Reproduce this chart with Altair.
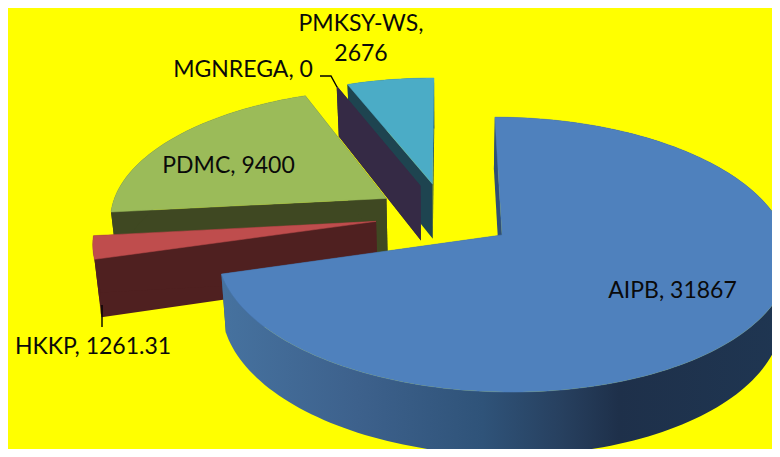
import numpy as np
import pandas as pd
import altair as alt

categories = ["AIPB", "HKKP", "PDMC", "MGNREGA", "PMKSY-WS"]
values = [31867, 1261.31, 9400, 0, 2676]
face_colors = ["#4F81BD", "#BF4D4D", "#9BBB59", "#8064A2", "#4BACC6"]
wall_colors = ["#2F4F75", "#4F2020", "#3F4822", "#352A45", "#1E4450"]
label_text = [["AIPB, 31867"], ["HKKP, 1261.31"], ["PDMC, 9400"], ["MGNREGA, 0"], ["PMKSY-WS,", "2676"]]

# perspective of the tilted pie
X0, Y0, A, B, K, EXPLODE, DEPTH, SHRINK = 445, 215, 277, 129, 0.14, 0.252, 56, 0.98
PAGE_MARGIN = 8


def project(u, v, lower=False):
    s = 1 / (1 - K * v)
    f = SHRINK if lower else 1
    return [X0 + A * u * s * f, Y0 + B * v * s * f + (DEPTH * s if lower else 0)]


def ring_point(angle, ox, oy, r=1.0):
    return ox + r * np.sin(angle), oy - r * np.cos(angle)


def feature(points):
    ring = [[float(x), float(y)] for x, y in points]
    ring.append(ring[0])
    return {"type": "Feature", "properties": {},
            "geometry": {"type": "Polygon", "coordinates": [ring]}}


def line_feature(points):
    return {"type": "Feature", "properties": {},
            "geometry": {"type": "LineString", "coordinates": points}}


def shape(features, **mark):
    return alt.Chart(alt.Data(values=features, format=alt.DataFormat(type="json"))).mark_geoshape(**mark).project(
        type="identity", scale=1, translate=[-PAGE_MARGIN, -PAGE_MARGIN])


total = sum(values)
starts = np.cumsum([0] + values[:-1]) / total * 2 * np.pi
ends = np.cumsum(values) / total * 2 * np.pi

wedges = []
for i in range(len(values)):
    a0, a1 = starts[i], ends[i]
    mid = (a0 + a1) / 2
    ox, oy = EXPLODE * np.sin(mid), -EXPLODE * np.cos(mid)
    n = max(2, int((a1 - a0) / np.radians(1.5)))
    arc = [ring_point(t, ox, oy) for t in np.linspace(a0, a1, n)]
    wedges.append(dict(ox=ox, oy=oy, arc=arc, a0=a0, a1=a1))

# back to front
layers = []
for i in [4, 3, 2, 1, 0]:
    w = wedges[i]
    arc, ox, oy = w["arc"], w["ox"], w["oy"]
    edges = []
    for end in (arc[0], arc[-1]):
        edges.append(feature([project(ox, oy), project(*end), project(*end, lower=True), project(ox, oy, lower=True)]))
    layers.append(shape(edges, fill=wall_colors[i], strokeWidth=0))
    top = [project(u, v) for u, v in arc]
    bottom = [project(u, v, lower=True) for u, v in arc]
    rim = feature(top + bottom[::-1])
    if i == 0:
        fill = alt.Gradient(gradient="linear", x1=0, x2=1, y1=0, y2=0, stops=[
            alt.GradientStop(color="#46729F", offset=0.0),
            alt.GradientStop(color="#3D618C", offset=0.24),
            alt.GradientStop(color="#2F5379", offset=0.46),
            alt.GradientStop(color="#27405F", offset=0.60),
            alt.GradientStop(color="#1E304A", offset=0.70),
            alt.GradientStop(color="#1F3652", offset=1.0),
        ])
        layers.append(shape([rim], fill=fill, strokeWidth=0))
    else:
        layers.append(shape([rim], fill=wall_colors[i], strokeWidth=0))
    if values[i] > 0:
        layers.append(shape([feature([project(ox, oy)] + top)], fill=face_colors[i],
                            stroke=face_colors[i], strokeWidth=0.5))

# leader lines
layers.append(shape([line_feature([[320, 76], [331, 76], [337, 87]]),
                     line_feature([[102, 305], [102, 327]])],
                    filled=False, stroke="#000000", strokeWidth=1.4))

# labels, centred on their anchor
anchors = [(672.5, 291), (93, 347), (228.5, 166), (243, 70), (361, 24)]
for text, (ax, ay) in zip(label_text, anchors):
    df = pd.DataFrame({"label": ["\n".join(text)]})
    layers.append(alt.Chart(df).mark_text(
        font="Lato", fontSize=23, color="#0A0A0A", align="center", baseline="middle",
        lineBreak="\n", lineHeight=30).encode(
        text="label:N", x=alt.value(ax - PAGE_MARGIN), y=alt.value(ay - PAGE_MARGIN)))

chart = alt.layer(*layers).properties(
    width=764, height=441, padding=0, background="#FFFF00", autosize=alt.AutoSizeParams(type="none")
).configure_view(stroke=None)

chart.save("out.html", embed_options={"renderer": "svg", "actions": False})
